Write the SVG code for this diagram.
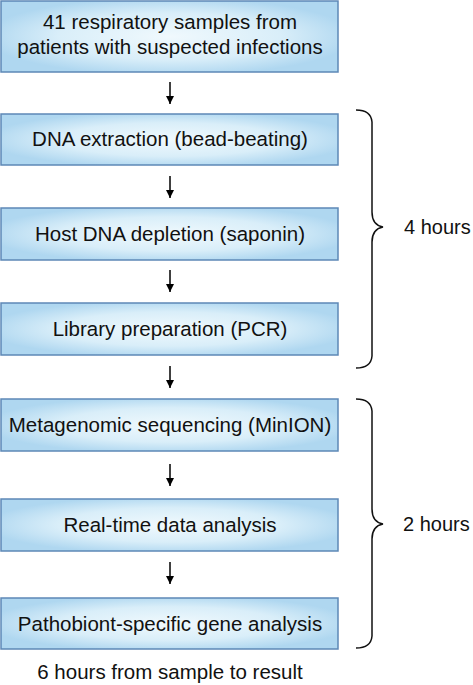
<svg xmlns="http://www.w3.org/2000/svg" width="473" height="685" viewBox="0 0 473 685">
<defs>
<radialGradient id="bg" cx="50%" cy="50%" r="55%">
<stop offset="0" stop-color="#f0f9fd"/>
<stop offset="0.6" stop-color="#d9eef9"/>
<stop offset="1" stop-color="#afd7f0"/>
</radialGradient>
<marker id="ah" viewBox="0 0 10 10" refX="10" refY="5" markerWidth="8" markerHeight="8" markerUnits="userSpaceOnUse" orient="auto">
<path d="M0,0 L10,5 L0,10 Z" fill="#000"/>
</marker>
</defs>
<style>
.box{fill:url(#bg);stroke:#5d88b6;stroke-width:1.5}
.t{font-family:"Liberation Sans",Arial,sans-serif;font-size:20.5px;fill:#111;text-anchor:middle}
.s{font-family:"Liberation Sans",Arial,sans-serif;font-size:20px;fill:#111}
.c{stroke:#000;stroke-width:1.5;fill:none}
.b{stroke:#111;stroke-width:1.5;fill:none}
</style>
<rect width="473" height="685" fill="#fff"/>
<g id="n1"><rect class="box" x="1" y="1" width="337" height="71"/><text class="t" x="170" y="29">41 respiratory samples from</text><text class="t" x="170" y="54">patients with suspected infections</text></g>
<g id="n2"><rect class="box" x="1" y="114" width="337" height="51"/><text class="t" x="170" y="146">DNA extraction (bead-beating)</text></g>
<g id="n3"><rect class="box" x="1" y="208" width="337" height="52"/><text class="t" x="170" y="241">Host DNA depletion (saponin)</text></g>
<g id="n4"><rect class="box" x="1" y="303" width="337" height="52"/><text class="t" x="170" y="336">Library preparation (PCR)</text></g>
<g id="n5"><rect class="box" x="1" y="399" width="337" height="52"/><text class="t" x="170" y="432">Metagenomic sequencing (MinION)</text></g>
<g id="n6"><rect class="box" x="1" y="499" width="337" height="52"/><text class="t" x="170" y="532">Real-time data analysis</text></g>
<g id="n7"><rect class="box" x="1" y="598" width="337" height="51"/><text class="t" x="170" y="631">Pathobiont-specific gene analysis</text></g>
<g id="connectors">
<line class="c" x1="170" y1="82" x2="170" y2="104" marker-end="url(#ah)"/>
<line class="c" x1="170" y1="176" x2="170" y2="198" marker-end="url(#ah)"/>
<line class="c" x1="170" y1="270" x2="170" y2="292" marker-end="url(#ah)"/>
<line class="c" x1="170" y1="366" x2="170" y2="388" marker-end="url(#ah)"/>
<line class="c" x1="170" y1="464" x2="170" y2="486" marker-end="url(#ah)"/>
<line class="c" x1="170" y1="562" x2="170" y2="584" marker-end="url(#ah)"/>
</g>
<g id="brace1">
<path class="b" d="M356,110 Q371,110 372,122 L372,212 Q372,225 383,227 Q372,229 372,242 L372,356 Q371,368 356,368"/>
<text class="s" x="404" y="234">4 hours</text>
</g>
<g id="brace2">
<path class="b" d="M356,399 Q371,399 372,411 L372,509 Q372,522 383,524 Q372,526 372,539 L372,636 Q371,648 356,648"/>
<text class="s" x="403" y="531">2 hours</text>
</g>
<text id="footer" class="t" x="170" y="679">6 hours from sample to result</text>
</svg>
